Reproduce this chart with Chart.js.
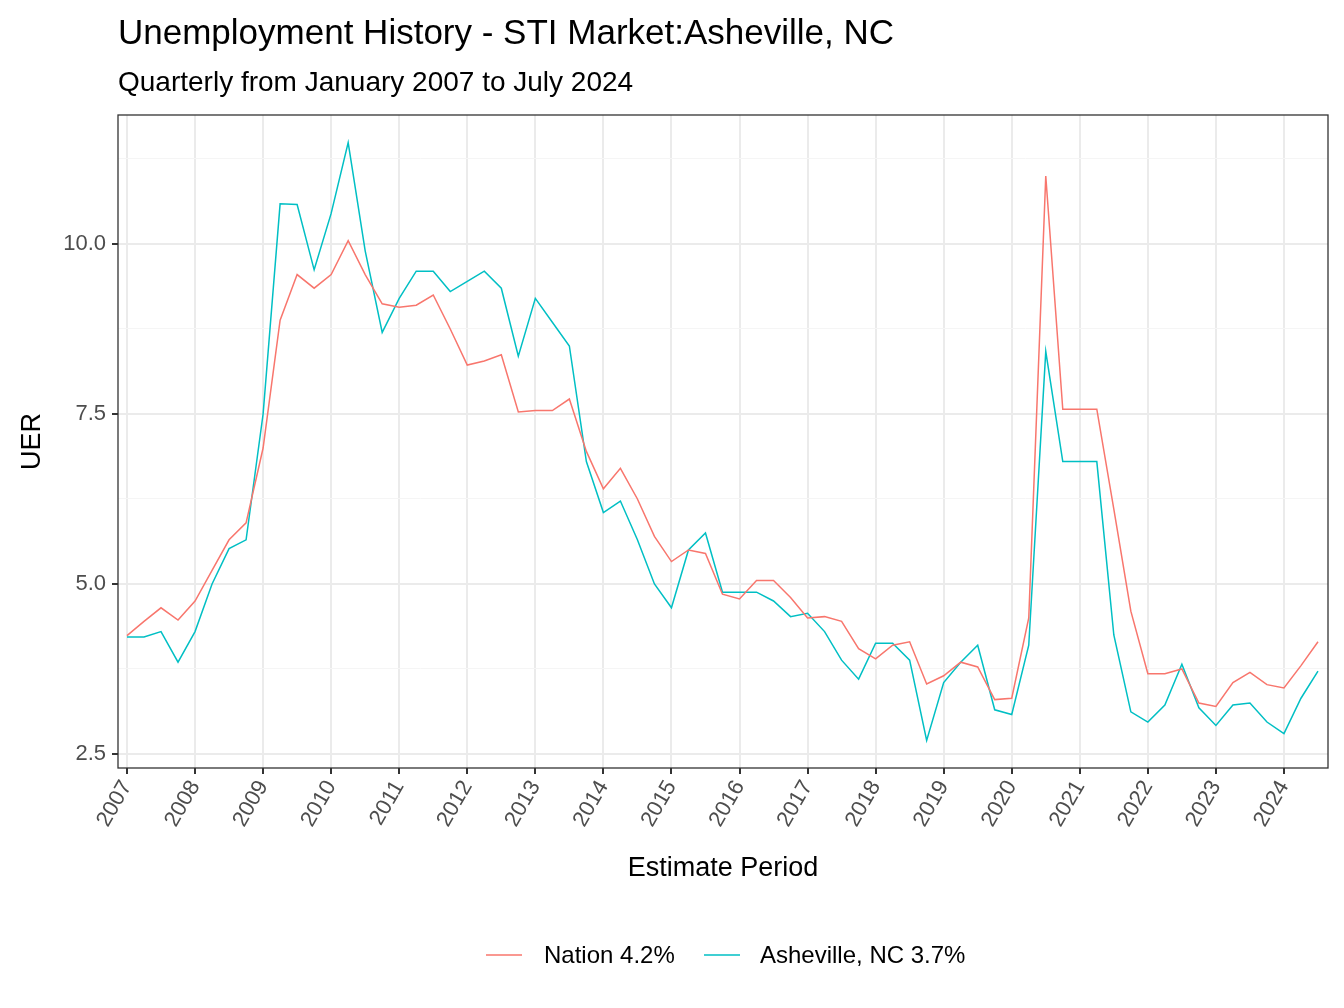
<!DOCTYPE html>
<html><head><meta charset="utf-8">
<script src="https://cdn.jsdelivr.net/npm/chart.js@4/dist/chart.umd.min.js"></script>
<style>html,body{margin:0;padding:0;background:#fff}#w{width:1344px;height:1008px}</style>
</head><body><div id="w"><canvas id="c"></canvas></div>
<script>
const titleText = "Unemployment History - STI Market:Asheville, NC";
const subtitleText = "Quarterly from January 2007 to July 2024";
const seriesNames = ["Nation 4.2%", "Asheville, NC 3.7%"];
const startYear = 2007;
const nation = [4.24,4.45,4.65,4.47, 4.75,5.2,5.65,5.9, 7.0,8.88,9.55,9.35, 9.55,10.05,9.55,9.12,
 9.07,9.1,9.25,8.75, 8.22,8.28,8.37,7.53, 7.55,7.55,7.72,6.95, 6.4,6.7,6.25,5.7,
 5.33,5.5,5.45,4.85, 4.78,5.05,5.05,4.8, 4.5,4.52,4.45,4.05, 3.9,4.1,4.15,3.53,
 3.65,3.85,3.78,3.3, 3.32,4.5,11.0,7.57, 7.57,7.57,6.1,4.6, 3.68,3.68,3.75,3.25,
 3.2,3.55,3.7,3.52, 3.47,3.8,4.15];
const asheville = [4.22,4.22,4.3,3.85, 4.3,5.0,5.52,5.65, 7.5,10.59,10.58,9.62, 10.45,11.49,9.9,8.7,
 9.2,9.6,9.6,9.3, 9.45,9.6,9.35,8.35, 9.2,8.85,8.5,6.8, 6.05,6.22,5.65,5.0,
 4.65,5.5,5.75,4.88, 4.88,4.88,4.75,4.52, 4.57,4.3,3.88,3.6, 4.13,4.13,3.88,2.7,
 3.55,3.85,4.1,3.15, 3.08,4.1,8.42,6.8, 6.8,6.8,4.25,3.12, 2.97,3.22,3.82,3.18,
 2.92,3.22,3.25,2.97, 2.8,3.32,3.72];
const yMajor = [2.5,5.0,7.5,10.0];
const colors = ["#F8766D","#00BFC4"];
const F = "'Liberation Sans', Arial, sans-serif";
const pts = a => a.map((v,i)=>({x:startYear+i/4, y:v}));

const deco = {
  id:'deco',
  afterDraw(ch){
    const c=ch.ctx, a=ch.chartArea;
    c.save();
    c.strokeStyle='#333'; c.lineWidth=1.3;
    c.strokeRect(a.left,a.top,a.right-a.left,a.bottom-a.top);
    c.fillStyle='#000'; c.textBaseline='alphabetic'; c.textAlign='left';
    c.font='35px '+F; c.fillText(titleText,118,44);
    c.font='28px '+F; c.fillText(subtitleText,118,91);
    c.font='27px '+F; c.textAlign='center';
    c.fillText('Estimate Period',(a.left+a.right)/2,876);
    c.save(); c.translate(40,(a.top+a.bottom)/2); c.rotate(-Math.PI/2);
    c.fillText('UER',0,0); c.restore();
    // legend
    c.font='24px '+F; c.textAlign='left'; c.textBaseline='middle';
    const items=[[486,544],[704,760]];
    items.forEach((p,i)=>{
      c.strokeStyle=colors[i]; c.lineWidth=1.5;
      c.beginPath(); c.moveTo(p[0],955); c.lineTo(p[0]+36,955); c.stroke();
      c.fillStyle='#000'; c.fillText(seriesNames[i],p[1],956);
    });
    c.restore();
  }
};

new Chart(document.getElementById('c'),{
  type:'line',
  data:{datasets:[
    {label:seriesNames[0],data:pts(nation),borderColor:colors[0],borderWidth:1.5,pointRadius:0,tension:0},
    {label:seriesNames[1],data:pts(asheville),borderColor:colors[1],borderWidth:1.5,pointRadius:0,tension:0}
  ]},
  options:{
    responsive:true,maintainAspectRatio:false,animation:false,
    layout:{padding:{top:115,right:16,left:0,bottom:0}},
    plugins:{legend:{display:false},tooltip:{enabled:false}},
    scales:{
      x:{type:'linear',min:2006.868,max:2024.647,
        afterFit(s){s.height=240;},
        afterBuildTicks(s){const t=[];for(let y=2007;y<=2024;y++)t.push({value:y});s.ticks=t;},
        ticks:{autoSkip:false,maxRotation:60,minRotation:60,color:'#4d4d4d',font:{family:F,size:22},padding:2,
          callback:v=>String(v)},
        grid:{color:'#ebebeb',lineWidth:2,tickLength:6,tickColor:'#333',drawOnChartArea:true},
        border:{display:false}},
      y:{min:2.294,max:11.897,
        afterFit(s){s.width=118;},
        afterBuildTicks(s){s.ticks=[2.5,3.75,5,6.25,7.5,8.75,10,11.25].map(v=>({value:v}));},
        ticks:{color:'#4d4d4d',font:{family:F,size:22},padding:6,
          callback:v=>yMajor.includes(v)?v.toFixed(1):''},
        grid:{color:c=>yMajor.includes(c.tick&&c.tick.value)?'#ebebeb':'#f5f5f5',
          lineWidth:c=>yMajor.includes(c.tick&&c.tick.value)?2:1,tickLength:6,
          tickColor:c=>yMajor.includes(c.tick&&c.tick.value)?'#333':'rgba(0,0,0,0)'},
        border:{display:false}}
    }
  },
  plugins:[deco]
});
</script></body></html>
